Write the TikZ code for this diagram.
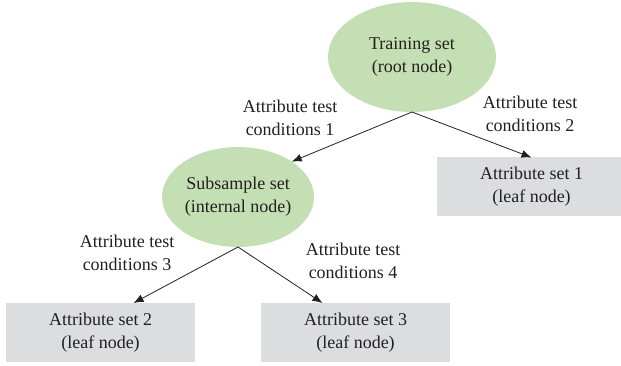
\documentclass[tikz,border=0pt]{standalone}
\usepackage{fontspec}
\setmainfont{Liberation Serif}
\usetikzlibrary{arrows.meta,positioning,calc,shapes.geometric}
\definecolor{nodegreen}{HTML}{C5DFB4}
\definecolor{leafgray}{HTML}{DCDDDF}
\definecolor{inkdark}{HTML}{231F20}

\begin{document}
\begin{tikzpicture}[x=1pt, y=-1pt,
  splitnode/.style={ellipse, fill=nodegreen, inner sep=0pt, outer sep=0pt, align=center, text=inkdark, font=\fontsize{18}{23}\selectfont},
  leafnode/.style={rectangle, fill=leafgray, inner sep=0pt, outer sep=0pt, minimum width=189pt, minimum height=59pt, align=center, text=inkdark, font=\fontsize{18}{23}\selectfont},
  testlabel/.style={align=center, inner sep=0pt, text=inkdark, font=\fontsize{18}{23}\selectfont},
  link/.style={draw=inkdark, line width=0.8pt, -{Latex[length=10pt,width=8pt]}},
]
% Canvas: one unit = one pixel of the 621 x 366 frame, y pointing down
\useasboundingbox (0,0) rectangle (621,366);

% Tree nodes
\node[splitnode, minimum width=168pt, minimum height=110pt] (root) at (412,57) {Training set\\(root node)};
\node[splitnode, minimum width=152pt, minimum height=100pt] (sub) at (238,197) {Subsample set\\(internal node)};
\node[leafnode] (leafa) at (531.5,187) {Attribute set 1\\(leaf node)};
\node[leafnode] (leafb) at (100.5,332.5) {Attribute set 2\\(leaf node)};
\node[leafnode] (leafc) at (355.5,332.5) {Attribute set 3\\(leaf node)};

% Branches
\draw[link] (root.south) -- (sub.north east);
\draw[link] (root.south) -- (leafa.north);
\draw[link] (sub.south) -- ([xshift=33pt]leafb.north);
\draw[link] (sub.south) -- ([xshift=-33pt]leafc.north);

% Test conditions on the branches
\node[testlabel] (testa) at (290,118) {Attribute test\\conditions 1};
\node[testlabel] (testb) at (530,114) {Attribute test\\conditions 2};
\node[testlabel] (testc) at (127,253) {Attribute test\\conditions 3};
\node[testlabel] (testd) at (353,261) {Attribute test\\conditions 4};
\end{tikzpicture}
\end{document}
